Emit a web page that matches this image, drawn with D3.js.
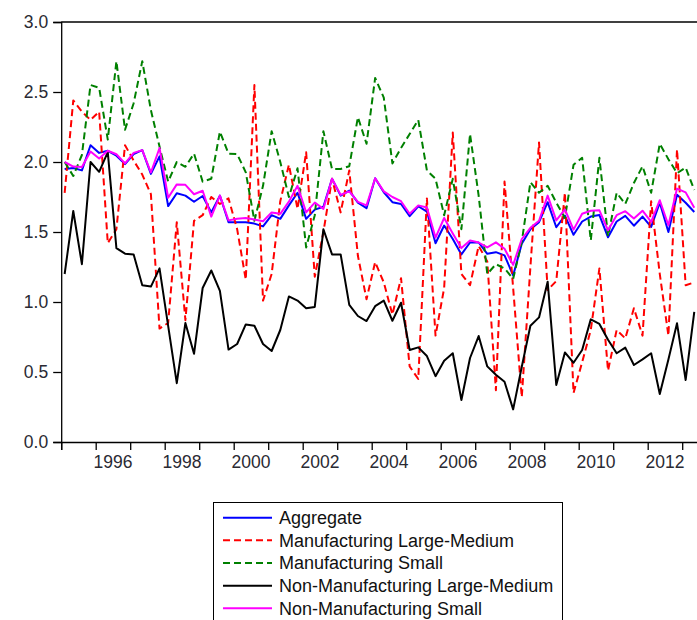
<!DOCTYPE html>
<html>
<head>
<meta charset="utf-8">
<script src="https://cdn.jsdelivr.net/npm/d3@7"></script>
<style>
  html, body { margin: 0; padding: 0; background: #fff; }
  svg { display: block; }
  text { font-family: "Liberation Sans", Arial, sans-serif; }
</style>
</head>
<body>
<svg id="chart" width="697" height="620"></svg>
<script>
// ---- data (quarterly, starting 1995Q1) ----
const startYear = 1995;
const seriesNames = [
  "Aggregate",
  "Manufacturing Large-Medium",
  "Manufacturing Small",
  "Non-Manufacturing Large-Medium",
  "Non-Manufacturing Small"
];
const aggregate = [1.95,1.957,1.94,2.12,2.065,2.08,2.045,1.985,2.057,2.085,1.915,2.04,1.685,1.777,1.76,
  1.716,1.757,1.64,1.76,1.57,1.57,1.57,1.56,1.54,1.62,1.594,1.69,1.78,1.594,1.66,
  1.68,1.88,1.76,1.796,1.71,1.67,1.884,1.784,1.713,1.70,1.613,1.684,1.646,1.42,1.546,
  1.45,1.34,1.425,1.425,1.344,1.356,1.333,1.19,1.416,1.52,1.57,1.713,1.534,1.617,1.48,
  1.575,1.61,1.621,1.462,1.575,1.615,1.545,1.61,1.536,1.709,1.5,1.766,1.709,1.643];
const mfgLargeMedium = [1.78,2.44,2.36,2.30,2.36,1.42,1.52,2.12,2.01,1.91,1.77,0.81,0.85,1.57,0.87,
  1.58,1.62,1.75,1.70,1.74,1.52,1.16,2.55,1.01,1.2,1.72,1.98,1.665,2.07,1.18,
  1.5,1.88,1.64,1.94,1.33,1.02,1.285,1.14,0.91,1.17,0.54,0.45,1.74,0.76,1.1,
  2.21,1.20,1.12,1.4,1.29,0.37,1.86,1.1,0.32,1.25,2.14,1.085,1.15,1.78,0.35,
  0.57,0.8,1.24,0.51,0.8,0.74,0.955,0.76,1.72,1.2,0.76,2.09,1.12,1.14];
const mfgSmall = [2.0,1.90,2.05,2.55,2.53,2.16,2.72,2.23,2.42,2.72,2.37,2.11,1.86,2.0,1.966,
  2.06,1.86,1.88,2.217,2.06,2.057,1.926,1.58,1.83,2.22,2.0,1.75,1.955,1.39,1.62,
  2.22,1.95,1.95,1.97,2.32,2.13,2.6,2.46,1.99,2.1,2.2,2.3,1.94,1.88,1.62,
  1.88,1.52,2.2,1.76,1.20,1.27,1.24,1.165,1.43,1.855,1.78,1.83,1.71,1.6,1.98,
  2.03,1.44,2.03,1.47,1.78,1.70,1.85,1.97,1.78,2.13,2.02,1.92,1.96,1.8];
const nonMfgLargeMedium = [1.20,1.65,1.27,2.00,1.93,2.07,1.385,1.345,1.34,1.12,1.11,1.24,0.83,0.42,0.85,
  0.63,1.10,1.225,1.08,0.66,0.70,0.84,0.83,0.70,0.65,0.80,1.04,1.01,0.955,0.965,
  1.52,1.34,1.34,0.98,0.90,0.864,0.97,1.01,0.866,0.995,0.657,0.676,0.614,0.47,0.58,
  0.634,0.30,0.60,0.757,0.54,0.48,0.43,0.233,0.538,0.83,0.89,1.145,0.407,0.64,0.566,
  0.657,0.876,0.843,0.73,0.634,0.674,0.55,0.59,0.634,0.343,0.59,0.848,0.443,0.93];
const nonMfgSmall = [2.0,1.967,1.965,2.075,2.025,2.08,2.055,1.99,2.065,2.085,1.925,2.10,1.745,1.84,1.837,
  1.77,1.795,1.61,1.76,1.583,1.594,1.6,1.59,1.577,1.64,1.63,1.717,1.83,1.64,1.71,
  1.665,1.88,1.765,1.79,1.715,1.69,1.884,1.79,1.75,1.72,1.63,1.69,1.675,1.46,1.60,
  1.49,1.385,1.44,1.425,1.39,1.426,1.38,1.265,1.45,1.53,1.58,1.76,1.583,1.661,1.517,
  1.63,1.652,1.655,1.512,1.62,1.649,1.596,1.652,1.572,1.727,1.548,1.81,1.783,1.673];
const yTicks = [0.0, 0.5, 1.0, 1.5, 2.0, 2.5, 3.0];
const xTickYears = d3.range(1995, 2014);
const xLabelYears = [1996, 1998, 2000, 2002, 2004, 2006, 2008, 2010, 2012];

(function () {
  const seriesData = [aggregate, mfgLargeMedium, mfgSmall, nonMfgLargeMedium, nonMfgSmall];
  const colors = ["#0000ff", "#ff0000", "#008000", "#000000", "#ff00ff"];
  const dashes = [null, "7,4", "7,4", null, null];

  const svg = d3.select("#chart");
  svg.append("rect").attr("width", 697).attr("height", 620).attr("fill", "#fff");

  const pLeft = 61.2, pTop = 22, pBottom = 442;
  const pxPerYear = 34.5;
  const x = d3.scaleLinear().domain([1995, 2013.5]).range([pLeft, pLeft + 18.5 * pxPerYear]);
  const y = d3.scaleLinear().domain([0, 3]).range([pBottom, pTop]);
  const tOf = i => startYear + (i + 0.4) / 4;

  svg.append("clipPath").attr("id", "clip").append("rect")
    .attr("x", pLeft).attr("y", pTop - 2).attr("width", 697 - pLeft).attr("height", pBottom - pTop + 4);

  const yAxis = d3.axisLeft(y).tickValues(yTicks).tickFormat(d3.format(".1f")).tickSize(8).tickPadding(5);
  const gy = svg.append("g").attr("transform", `translate(${pLeft},0)`).call(yAxis);
  gy.select(".domain").attr("stroke", "#000").attr("stroke-width", 1.3);
  gy.selectAll(".tick line").attr("stroke", "#000").attr("stroke-width", 1.3);
  gy.selectAll(".tick text").attr("font-size", 17.5).attr("fill", "#2a2a33")
    .attr("font-family", "'Liberation Sans', Arial, sans-serif");

  const xAxis = d3.axisBottom(x).tickValues(xTickYears).tickFormat("").tickSize(8);
  const gx = svg.append("g").attr("transform", `translate(0,${pBottom})`).call(xAxis);
  gx.select(".domain").attr("stroke", "#000").attr("stroke-width", 1.3);
  gx.selectAll(".tick line").attr("stroke", "#000").attr("stroke-width", 1.3);

  svg.append("g").selectAll("text").data(xLabelYears).join("text")
    .attr("x", d => x(d + 0.5)).attr("y", 468)
    .attr("text-anchor", "middle").attr("font-size", 17.5).attr("fill", "#2a2a33")
    .text(d => d);

  svg.append("line").attr("x1", pLeft).attr("x2", 700).attr("y1", pTop).attr("y2", pTop)
    .attr("stroke", "#000").attr("stroke-width", 1.3);

  const line = d3.line().x((d, i) => x(tOf(i))).y(d => y(d));
  const plot = svg.append("g").attr("clip-path", "url(#clip)");
  seriesData.forEach((s, k) => {
    plot.append("path").datum(s).attr("d", line)
      .attr("fill", "none").attr("stroke", colors[k]).attr("stroke-width", 2)
      .attr("stroke-linejoin", "round")
      .attr("stroke-dasharray", dashes[k]);
  });

  const lg = svg.append("g");
  lg.append("rect").attr("x", 213.5).attr("y", 502.5).attr("width", 349).attr("height", 130)
    .attr("fill", "#fff").attr("stroke", "#000").attr("stroke-width", 1);
  seriesNames.forEach((name, k) => {
    const cy = 517.7 + k * 22.65;
    lg.append("line").attr("x1", 223).attr("x2", 272).attr("y1", cy).attr("y2", cy)
      .attr("stroke", colors[k]).attr("stroke-width", 2).attr("stroke-dasharray", dashes[k]);
    lg.append("text").attr("x", 279).attr("y", cy).attr("dy", "0.35em")
      .attr("font-size", 18).attr("fill", "#111").text(name);
  });
})();
</script>
</body>
</html>
